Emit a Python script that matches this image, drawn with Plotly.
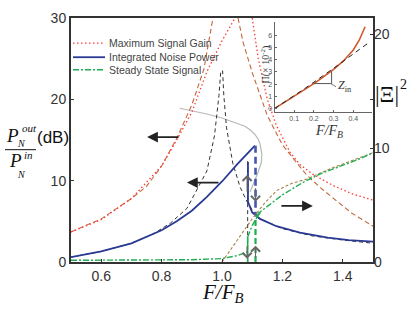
import plotly.graph_objects as go

# ---------------- data ----------------
# Maximum signal gain (left axis, dB) - red dotted, two branches
gain_lo_F = [0.5, 0.6, 0.7, 0.8, 0.85, 0.9, 0.95, 1.0, 1.043]
gain_lo = [3.7, 5.2, 7.8, 11.8, 15.0, 18.4, 23.4, 27.2, 30.0]
gain_hi_F = [1.1, 1.12, 1.15, 1.18, 1.225, 1.258, 1.3, 1.368, 1.43, 1.5]
gain_hi = [30.0, 25.0, 20.0, 16.8, 13.5, 12.0, 10.8, 9.4, 8.4, 7.6]

# companion gain curve - orange dashed, two branches
gain2_lo_F = [0.5, 0.6, 0.7, 0.75, 0.8, 0.85, 0.9, 0.94, 0.97]
gain2_lo = [3.7, 5.3, 7.8, 9.3, 11.8, 15.2, 19.3, 23.7, 30.0]
gain2_hi_F = [1.053, 1.07, 1.1, 1.15, 1.2, 1.25, 1.28, 1.33, 1.37, 1.43, 1.5]
gain2_hi = [30.0, 27.0, 23.3, 18.0, 14.4, 12.0, 10.7, 9.0, 7.8, 6.0, 4.4]

# Linear noise response (black dashed)
lin_F = [0.5, 0.6, 0.7, 0.77, 0.83, 0.884, 0.95, 0.975, 0.99, 0.996, 1.002, 1.006,
         1.015, 1.036, 1.06, 1.083, 1.116, 1.2, 1.3, 1.4, 1.5]
lin_L = [0.6, 1.3, 2.3, 3.4, 4.8, 6.6, 11.2, 15.5, 20.5, 23.5, 23.5, 20.5,
         16.5, 12.1, 9.2, 7.4, 5.5, 4.1, 3.2, 2.7, 2.3]
lin_jump_F = [1.085, 1.085]
lin_jump_L = [12.4, 0.0]

# Integrated noise power (blue)
noise_up_F = [0.5, 0.6, 0.7, 0.8, 0.85, 0.9, 0.95, 1.0, 1.05, 1.083, 1.109]
noise_up = [0.6, 1.3, 2.3, 3.9, 5.0, 6.3, 8.0, 9.9, 12.0, 13.3, 14.3]
noise_dn_F = [1.086, 1.086, 1.10, 1.126, 1.18, 1.258, 1.35, 1.42, 1.5]
noise_dn = [12.3, 7.4, 6.1, 5.3, 4.4, 3.6, 3.0, 2.7, 2.5]
noise_jump_F = [1.111, 1.111]
noise_jump = [14.3, 5.6]

# full (folded) response, grey
fold_F = [0.86, 0.95, 1.0, 1.05, 1.076, 1.095, 1.109, 1.12, 1.126, 1.132, 1.13,
          1.119, 1.105, 1.093]
fold_L = [18.9, 18.2, 17.7, 17.1, 16.7, 16.2, 15.7, 15.1, 14.5, 13.3, 12.2,
          11.0, 9.6, 8.6]

# Steady state signal (right axis, |Xi|^2) - green
ss_lo_F = [0.5, 0.7, 0.9, 1.0, 1.05, 1.085]
ss_lo = [0.15, 0.15, 0.2, 0.3, 0.55, 0.9]
ss_jump_F = [1.085, 1.085]
ss_jump = [0.0, 2.2]
ss_hi_F = [1.085, 1.1, 1.126, 1.16, 1.2, 1.268, 1.33, 1.39, 1.45, 1.5]
ss_hi = [2.2, 3.2, 4.4, 5.1, 5.9, 7.0, 7.8, 8.4, 9.0, 9.6]
ss_up_F = [1.111, 1.111, 1.126]
ss_up = [0.0, 3.8, 4.4]

# companion signal curve - brown short dashes
sig2_F = [1.0, 1.05, 1.1, 1.142, 1.182, 1.23, 1.281, 1.368, 1.44, 1.5]
sig2 = [0.0, 1.9, 3.8, 5.2, 6.3, 6.9, 7.3, 8.3, 9.0, 9.6]

# inset: Pi vs F/F_B
pi_F = [0.0, 0.05, 0.1, 0.15, 0.2, 0.25, 0.3, 0.35, 0.4, 0.43, 0.46]
pi_val = [0.0, 0.5, 1.0, 1.5, 2.05, 2.62, 3.22, 3.9, 4.8, 5.6, 6.7]
tan_F = [0.0, 0.15, 0.3, 0.47]
tan_val = [0.0, 1.6, 3.3, 5.3]

x_ticks = [0.6, 0.8, 1.0, 1.2, 1.4]
x_tick_labels = ["0.6", "0.8", "1.0", "1.2", "1.4"]
yl_ticks = [0, 10, 20, 30]
yr_ticks = [0, 10, 20]
in_x_ticks = [0.1, 0.2, 0.3, 0.4]
in_y_ticks = [0, 1, 2, 3, 4, 5, 6]

# ---------------- styles ----------------
RED = "#ff3a3a"
ORANGE = "#c4683c"
BLUE = "#2a3a94"
GREEN = "#1fae50"
BROWN = "#a8804a"
GREY = "#b8b8b8"
BLK = "#333333"

fig = go.Figure()


def add(x, y, color, width, dash="solid", yaxis="y", xaxis="x"):
    fig.add_trace(go.Scatter(x=x, y=y, mode="lines", xaxis=xaxis, yaxis=yaxis,
                             line=dict(color=color, width=width, dash=dash),
                             showlegend=False, hoverinfo="skip"))


add(fold_F, fold_L, GREY, 1.2)
add(gain2_lo_F, gain2_lo, ORANGE, 1.1, "5px,3px")
add(gain2_hi_F, gain2_hi, ORANGE, 1.1, "5px,3px")
add(gain_lo_F, gain_lo, RED, 1.3, "1.5px,2.5px")
add(gain_hi_F, gain_hi, RED, 1.3, "1.5px,2.5px")
add(sig2_F, sig2, BROWN, 1.1, "3px,2px", yaxis="y2")
add(ss_lo_F, ss_lo, GREEN, 1.4, "6px,2px,2px,2px", yaxis="y2")
add(ss_jump_F, ss_jump, GREEN, 1.6, yaxis="y2")
add(ss_hi_F, ss_hi, GREEN, 1.4, "6px,2px,2px,2px", yaxis="y2")
add(ss_up_F, ss_up, GREEN, 2.2, "6px,3px", yaxis="y2")
add(lin_F, lin_L, BLK, 1.0, "4px,3px")
add(lin_jump_F, lin_jump_L, BLK, 1.0, "4px,3px")
add(noise_up_F, noise_up, BLUE, 1.8)
add(noise_dn_F, noise_dn, BLUE, 1.8)
add(noise_jump_F, noise_jump, "#4456b0", 2.6, "7px,4px")

# inset
add(pi_F, pi_val, "#d0582a", 1.6, xaxis="x3", yaxis="y3")
add(tan_F, tan_val, "#222222", 1.0, "5px,4px", xaxis="x3", yaxis="y3")

# ---------------- layout ----------------
L, B, W, H = 71, 49, 302, 252


def px(xp):
    return (xp - L) / W


def py(yp):
    return (311 - B - yp) / H


ann = []
shapes = []

# legend (manual)
leg = [("Maximum Signal Gain", RED, "1.5px,2.5px", 1.3, 36),
       ("Integrated Noise Power", BLUE, "solid", 1.8, 50.5),
       ("Steady State Signal", GREEN, "6px,2px,2px,2px", 1.4, 63.5)]
for name, col, dsh, wd, yy in leg:
    shapes.append(dict(type="line", xref="paper", yref="paper", x0=px(73), x1=px(105),
                       y0=py(yy), y1=py(yy), line=dict(color=col, width=wd, dash=dsh)))
    ann.append(dict(text=name, xref="paper", yref="paper", x=px(106.5), y=py(yy),
                    xanchor="left", yanchor="middle", showarrow=False,
                    font=dict(size=10.5, color="#444", family="Liberation Sans, Arial")))

# left axis title (fraction)
serif = "Liberation Serif, Times New Roman, serif"
sans = "Liberation Sans, Arial, sans-serif"
ann += [
    dict(text="<i>P</i>", x=px(12.5), y=py(131.5), xanchor="center", yanchor="middle",
         font=dict(size=19, family=serif, color="#111")),
    dict(text="<i>out</i>", x=px(19.5), y=py(123.5), xanchor="left", yanchor="middle",
         font=dict(size=11, family=serif, color="#111")),
    dict(text="<i>N</i>", x=px(15), y=py(140), xanchor="left", yanchor="middle",
         font=dict(size=10, family=serif, color="#111")),
    dict(text="(dB)", x=px(35), y=py(133), xanchor="left", yanchor="middle",
         font=dict(size=17, family=sans, color="#111")),
    dict(text="<i>P</i>", x=px(15.5), y=py(157.5), xanchor="center", yanchor="middle",
         font=dict(size=19, family=serif, color="#111")),
    dict(text="<i>in</i>", x=px(21.5), y=py(152), xanchor="left", yanchor="middle",
         font=dict(size=11, family=serif, color="#111")),
    dict(text="<i>N</i>", x=px(15), y=py(172), xanchor="left", yanchor="middle",
         font=dict(size=10, family=serif, color="#111")),
    # right axis title
    dict(text="|Ξ|", x=px(387), y=py(89), xanchor="center", yanchor="middle",
         font=dict(size=23, family=serif, color="#111")),
    dict(text="2", x=px(403), y=py(79), xanchor="center", yanchor="middle",
         font=dict(size=14, family=serif, color="#111")),
    # x title
    dict(text="<i>F/F</i><sub><i>B</i></sub>", x=px(223), y=py(294.5), xanchor="center",
         yanchor="middle", font=dict(size=21, family=serif, color="#111")),
    # inset titles
    dict(text="Π(× 10<sup>-2</sup>)", x=px(265), y=py(58), xanchor="center", yanchor="middle",
         textangle=-90, font=dict(size=10, family=serif, color="#333")),
    dict(text="<i>F/F</i><sub><i>B</i></sub>", x=px(329), y=py(127), xanchor="center",
         yanchor="middle", font=dict(size=14, family=serif, color="#333")),
    dict(text="<i>Z</i><sub>in</sub>", x=px(336), y=py(80), xanchor="left", yanchor="middle",
         font=dict(size=12, family=serif, color="#333")),
]
for a in ann:
    a.setdefault("xref", "paper")
    a.setdefault("yref", "paper")
    a.setdefault("showarrow", False)

shapes.append(dict(type="line", xref="paper", yref="paper", x0=px(5), x1=px(36),
                   y0=py(146), y1=py(146), line=dict(color="#111", width=1)))
# slope triangle in the inset
shapes.append(dict(type="path", xref="x3", yref="y3",
                   path="M 0.2,2.05 L 0.29,2.05 L 0.29,3.05",
                   line=dict(color="#555", width=1)))
shapes.append(dict(type="line", xref="paper", yref="paper", x0=px(331), x1=px(336),
                   y0=py(78), y1=py(81), line=dict(color="#555", width=0.8)))

# black direction arrows (which axis a curve belongs to)
for hx, hy, axo in [(0.752, 15.36, 33), (0.884, 9.76, 33), (1.301, 6.9, -33)]:
    ann.append(dict(x=hx, y=hy, xref="x", yref="y", ax=axo, ay=0, text="",
                    showarrow=True, arrowhead=2, arrowsize=1.2, arrowwidth=1.8,
                    arrowcolor="#222"))
# grey hysteresis arrows
for hx, hy, ayo in [(1.083, 10.7, 18), (1.111, 7.4, -15), (1.111, 2.0, 13), (1.083, 0.4, -14)]:
    ann.append(dict(x=hx, y=hy, xref="x", yref="y", ax=0, ay=ayo, text="",
                    showarrow=True, arrowhead=4, arrowsize=1.6, arrowwidth=1.1,
                    arrowcolor="#666"))

axis_common = dict(showgrid=False, zeroline=False, ticks="inside", ticklen=3,
                   tickcolor="#333", tickwidth=1.2)

fig.update_layout(
    width=415, height=311,
    margin=dict(l=L, r=415 - L - W, t=311 - B - H, b=B),
    paper_bgcolor="white", plot_bgcolor="rgba(0,0,0,0)",
    showlegend=False,
    font=dict(family=sans, size=14, color="#333"),
    xaxis=dict(domain=[0, 1], range=[0.5, 1.5], tickvals=x_ticks, ticktext=x_tick_labels,
               showline=True, linewidth=2, linecolor="#333", mirror=True,
               tickfont=dict(size=14, color="#333"), **axis_common),
    yaxis=dict(domain=[0, 1], range=[0, 30], tickvals=yl_ticks,
               ticktext=[str(v) for v in yl_ticks],
               showline=True, linewidth=2, linecolor="#333", mirror="ticks",
               tickfont=dict(size=14, color="#333"), **axis_common),
    yaxis2=dict(overlaying="y", side="right", range=[0, 21.45], tickvals=yr_ticks,
                ticktext=[str(v) for v in yr_ticks], showline=False,
                tickfont=dict(size=14, color="#333"), **axis_common),
    xaxis3=dict(domain=[px(274.5), px(372)], anchor="y3", range=[0, 0.495],
                tickvals=in_x_ticks, ticktext=[str(v) for v in in_x_ticks],
                showline=True, linewidth=1, linecolor="#666", showgrid=False, zeroline=False,
                ticks="inside", ticklen=2, tickcolor="#666",
                tickfont=dict(size=7, color="#555")),
    yaxis3=dict(domain=[py(107), py(14)], anchor="x3", range=[-0.27, 7.1],
                tickvals=in_y_ticks, ticktext=[str(v) for v in in_y_ticks],
                showline=True, linewidth=1, linecolor="#666", showgrid=False, zeroline=False,
                ticks="inside", ticklen=2, tickcolor="#666",
                tickfont=dict(size=7, color="#555")),
    annotations=ann,
    shapes=shapes,
)

# remove the browser's default 8px page margin so the figure sits at the window origin
fig.write_html("out.html", config={"displayModeBar": False},
               post_script="document.body.style.margin='0px';")
